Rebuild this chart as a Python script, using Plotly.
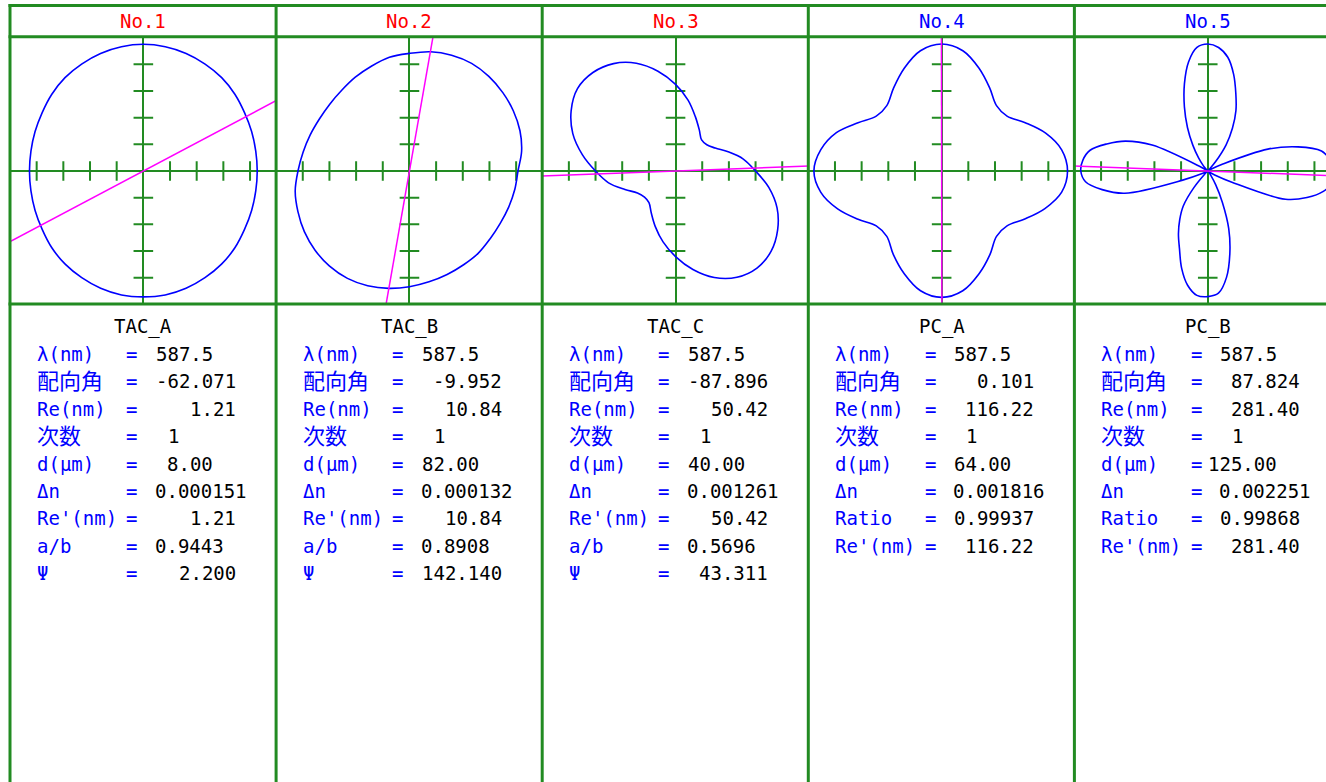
import numpy as np
import plotly.graph_objects as go

# Ảnh chụp: 5 mẫu, mỗi mẫu có một đồ thị cực (polar) và bảng thông số bên dưới
W, H = 1326, 782
GREEN = '#228B22'
BLUE = '#0000FF'
MAGENTA = '#FF00FF'
RED = '#FF0000'
MONO = 'DejaVu Sans Mono, Noto Sans CJK JP, monospace'

HEADERS = ['No.1', 'No.2', 'No.3', 'No.4', 'No.5']
HEADER_COLORS = [RED, RED, RED, BLUE, BLUE]
SAMPLES = ['TAC_A', 'TAC_B', 'TAC_C', 'PC_A', 'PC_B']

# Các thông số đo
WAVELENGTH = [587.5, 587.5, 587.5, 587.5, 587.5]
ORIENT = [-62.071, -9.952, -87.896, 0.101, 87.824]
RE = [1.21, 10.84, 50.42, 116.22, 281.40]
ORDER = [1, 1, 1, 1, 1]
THICKNESS = [8.00, 82.00, 40.00, 64.00, 125.00]
DELTA_N = [0.000151, 0.000132, 0.001261, 0.001816, 0.002251]
RE_PRIME = [1.21, 10.84, 50.42, 116.22, 281.40]
AB = [0.9443, 0.8908, 0.5696, None, None]
PSI = [2.200, 142.140, 43.311, None, None]
RATIO = [None, None, None, 0.99937, 0.99868]

TAC_ROWS = ['λ(nm)', '配向角', 'Re(nm)', '次数', 'd(μm)', 'Δn', "Re'(nm)", 'a/b', 'Ψ']
PC_ROWS = ['λ(nm)', '配向角', 'Re(nm)', '次数', 'd(μm)', 'Δn', 'Ratio', "Re'(nm)"]

# Định dạng hiển thị: (chuỗi format, độ rộng cột tính theo ký tự)
FMT = {
    'λ(nm)': ('{:.1f}', 5), '配向角': ('{:.3f}', 7), 'Re(nm)': ('{:.2f}', 7),
    '次数': ('{:d}', 2), 'd(μm)': ('{:.2f}', 5), 'Δn': ('{:.6f}', 8),
    "Re'(nm)": ('{:.2f}', 7), 'a/b': ('{:.4f}', 6), 'Ψ': ('{:.3f}', 7),
    'Ratio': ('{:.5f}', 7),
}

# Bán kính (đơn vị = 1 vạch chia), theo góc
ANGLES_10 = list(range(0, 360, 10))
ANGLES_5 = list(range(0, 360, 5))

R_TAC_A = [4.27, 4.28, 4.32, 4.38, 4.48, 4.57, 4.63, 4.69, 4.73, 4.75, 4.73, 4.69,
           4.63, 4.57, 4.48, 4.38, 4.32, 4.28, 4.27, 4.28, 4.32, 4.38, 4.48, 4.56,
           4.62, 4.68, 4.72, 4.72, 4.72, 4.68, 4.62, 4.56, 4.48, 4.38, 4.32, 4.28]
R_TAC_B = [4.07, 4.27, 4.41, 4.50, 4.57, 4.63, 4.66, 4.62, 4.54, 4.41, 4.33, 4.18,
           4.06, 3.95, 3.90, 3.90, 3.96, 4.05, 4.18, 4.35, 4.45, 4.55, 4.62, 4.66,
           4.65, 4.58, 4.47, 4.34, 4.22, 4.13, 4.06, 4.02, 3.95, 3.93, 3.96, 4.01]
R_TAC_C = [3.00, 2.58, 2.10, 1.72, 1.53, 1.52, 1.78, 2.17, 2.70, 3.25, 3.80, 4.30,
           4.65, 4.82, 4.80, 4.52, 4.10, 3.55, 3.00, 2.55, 2.02, 1.65, 1.52, 1.55,
           1.82, 2.22, 2.70, 3.21, 3.75, 4.25, 4.60, 4.75, 4.68, 4.42, 4.05, 3.55]
R_PC_A = [4.72, 4.57, 4.15, 3.62, 3.20, 3.20, 3.60, 4.10, 4.58, 4.76, 4.58, 4.10,
          3.60, 3.20, 3.20, 3.62, 4.20, 4.60, 4.79, 4.60, 4.15, 3.62, 3.20, 3.20,
          3.62, 4.10, 4.56, 4.74, 4.56, 4.10, 3.62, 3.20, 3.20, 3.60, 4.12, 4.57]
R_PC_B = [4.78, 4.62, 4.33, 3.50, 2.40, 0.60, 0.12, 0.04, 0.02, 0.03, 0.45, 1.20,
          1.85, 2.50, 3.08, 3.75, 4.33, 4.65, 4.76, 4.65, 4.15, 3.38, 2.56, 1.80,
          1.12, 0.60, 0.25, 0.05, 0.02, 0.06, 0.30, 2.30, 3.28, 3.92, 4.48, 4.70,
          4.76, 4.60, 4.02, 3.22, 1.00, 0.20, 0.05, 0.02, 0.04, 0.15, 0.80, 1.60,
          2.10, 2.60, 3.10, 3.78, 4.35, 4.68, 4.71, 4.60, 4.05, 3.20, 2.30, 1.30,
          0.60, 0.20, 0.05, 0.02, 0.04, 0.10, 0.30, 1.00, 3.10, 3.85, 4.40, 4.70]

CURVES = [(ANGLES_10, R_TAC_A), (ANGLES_10, R_TAC_B), (ANGLES_10, R_TAC_C),
          (ANGLES_10, R_PC_A), (ANGLES_5, R_PC_B)]
TICKS = [-4, -3, -2, -1, 1, 2, 3, 4]

# Bố cục (pixel)
X0, PANEL_W = 10, 266.1
UNIT, HALF = 26.67, 5
CROSS_Y = 171
ROW_Y0, ROW_DY, TITLE_Y, HEAD_Y = 354, 27.4, 326.5, 21
CELL = 11.4


def px_x(px):
    return px / W


def px_y(py):
    return 1 - py / H


fig = go.Figure()
layout_axes = {}
annotations = []

for i in range(5):
    sfx = '' if i == 0 else str(i + 1)
    left = X0 + PANEL_W * i
    cx = left + HALF * UNIT
    right = min(cx + HALF * UNIT, W)
    layout_axes['xaxis' + sfx] = dict(
        domain=[px_x(left), px_x(right)], range=[-HALF, (right - cx) / UNIT],
        anchor='y' + sfx, showgrid=False, showticklabels=False, ticks='',
        zeroline=True, zerolinecolor=GREEN, zerolinewidth=2, fixedrange=True)
    layout_axes['yaxis' + sfx] = dict(
        domain=[px_y(CROSS_Y + HALF * UNIT), px_y(CROSS_Y - HALF * UNIT)],
        range=[-HALF, HALF], anchor='x' + sfx, showgrid=False, showticklabels=False,
        ticks='', zeroline=True, zerolinecolor=GREEN, zerolinewidth=2, fixedrange=True)
    xa, ya = 'x' + sfx, 'y' + sfx

    # Vạch chia trên hai trục
    fig.add_trace(go.Scatter(x=TICKS, y=[0] * len(TICKS), mode='markers', xaxis=xa, yaxis=ya,
                             marker=dict(symbol='line-ns', size=14, line=dict(color=GREEN, width=2))))
    fig.add_trace(go.Scatter(x=[0] * len(TICKS), y=TICKS, mode='markers', xaxis=xa, yaxis=ya,
                             marker=dict(symbol='line-ew', size=14, line=dict(color=GREEN, width=2))))

    # Đường cong cực
    ang, r = CURVES[i]
    th = np.deg2rad(ang + [ang[0]])
    rr = np.array(r + [r[0]])
    fig.add_trace(go.Scatter(x=rr * np.cos(th), y=rr * np.sin(th), mode='lines', xaxis=xa, yaxis=ya,
                             line=dict(color=BLUE, width=1.6, shape='spline', smoothing=1)))

    # Đường hướng (góc định hướng + 90°)
    a = np.deg2rad(ORIENT[i] + 90)
    fig.add_trace(go.Scatter(x=[-8 * np.cos(a), 8 * np.cos(a)], y=[-8 * np.sin(a), 8 * np.sin(a)],
                             mode='lines', xaxis=xa, yaxis=ya, line=dict(color=MAGENTA, width=1.5)))

    # Tiêu đề cột và tên mẫu
    annotations.append(dict(x=px_x(cx), y=px_y(HEAD_Y), xref='paper', yref='paper', text=HEADERS[i],
                            showarrow=False, xanchor='center', yanchor='middle',
                            font=dict(family=MONO, size=19, color=HEADER_COLORS[i])))
    annotations.append(dict(x=px_x(cx), y=px_y(TITLE_Y), xref='paper', yref='paper', text=SAMPLES[i],
                            showarrow=False, xanchor='center', yanchor='middle',
                            font=dict(family=MONO, size=19, color='black')))

    values = {'λ(nm)': WAVELENGTH[i], '配向角': ORIENT[i], 'Re(nm)': RE[i], '次数': ORDER[i],
              'd(μm)': THICKNESS[i], 'Δn': DELTA_N[i], "Re'(nm)": RE_PRIME[i],
              'a/b': AB[i], 'Ψ': PSI[i], 'Ratio': RATIO[i]}
    rows = TAC_ROWS if AB[i] is not None else PC_ROWS
    for k, label in enumerate(rows):
        y = px_y(ROW_Y0 + ROW_DY * k)
        cjk = any('\u3000' <= ch <= '\u9fff' for ch in label)
        fmt, width = FMT[label]
        annotations.append(dict(x=px_x(left + 25.5), y=y, xref='paper', yref='paper', text=label,
                                showarrow=False, xanchor='left', yanchor='middle', borderpad=0,
                                font=dict(family=MONO, size=22 if cjk else 19, color=BLUE)))
        annotations.append(dict(x=px_x(left + 121.7), y=y, xref='paper', yref='paper', text='=',
                                showarrow=False, xanchor='center', yanchor='middle', borderpad=0,
                                font=dict(family=MONO, size=19, color=BLUE)))
        annotations.append(dict(x=px_x(left + 146.7 + width * CELL), y=y, xref='paper', yref='paper',
                                text=fmt.format(values[label]), showarrow=False, xanchor='right',
                                yanchor='middle', borderpad=0,
                                font=dict(family=MONO, size=19, color='black')))

# Khung lưới màu xanh lá
shapes = []
for i in range(5):
    xv = px_x(X0 + PANEL_W * i)
    shapes.append(dict(type='line', xref='paper', yref='paper', x0=xv, x1=xv, y0=px_y(4), y1=0,
                       line=dict(color=GREEN, width=3), layer='above'))
for yh in [5.5, 36.7, 304]:
    shapes.append(dict(type='line', xref='paper', yref='paper', x0=px_x(8.5), x1=1,
                       y0=px_y(yh), y1=px_y(yh), line=dict(color=GREEN, width=3), layer='above'))

fig.update_layout(**layout_axes)
fig.update_layout(
    width=W, height=H, margin=dict(l=0, r=0, t=0, b=0),
    paper_bgcolor='white', plot_bgcolor='white', showlegend=False, hovermode=False,
    shapes=shapes, annotations=annotations,
)

# Bỏ lề mặc định của trang để hình khớp cửa sổ, ẩn thanh công cụ
fig.write_html("out.html", config={'displayModeBar': False},
               post_script="document.body.style.margin='0';document.body.style.overflow='hidden';")
